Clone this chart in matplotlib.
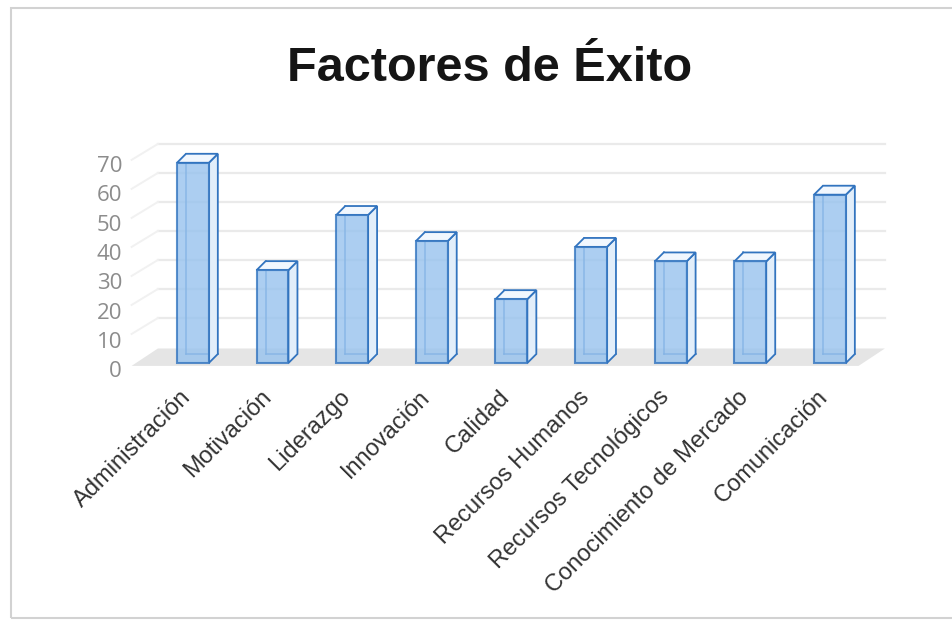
import matplotlib
matplotlib.use('Agg')
import matplotlib.pyplot as plt
from matplotlib.patches import Polygon, Rectangle

# datos
categorias = ['Administración', 'Motivación', 'Liderazgo', 'Innovación', 'Calidad',
              'Recursos Humanos', 'Recursos Tecnológicos', 'Conocimiento de Mercado',
              'Comunicación']
valores = [69, 32, 51, 42, 22, 40, 35, 35, 58]
marcas_y = [0, 10, 20, 30, 40, 50, 60, 70]
titulo = 'Factores de Éxito'

fig = plt.figure(figsize=(9.53, 6.22), dpi=100)
ax = fig.add_axes([130 / 953, (622 - 380) / 622, 770 / 953, 250 / 622])
ax.set_xlim(-0.79, 8.88)
ax.set_ylim(-5.86, 80.3)
ax.axis('off')

# profundidad de las columnas y de las paredes (unidades de datos)
ancho = 0.40
dx, dy = 0.113, 3.1
pared_dx, pared_dy = 0.33, 5.5
x_izq, x_der = -0.44, 8.69

# suelo
ax.add_patch(Polygon([(x_izq - pared_dx, -1.0), (x_izq, pared_dy - 0.5),
                      (x_der, pared_dy - 0.5), (x_der - pared_dx, -1.0)],
                     closed=True, facecolor='#e5e5e5', edgecolor='none', zorder=1))

# lineas de division en la pared del fondo y en la pared lateral
for m in marcas_y[1:]:
    ax.plot([x_izq, x_der], [m + pared_dy, m + pared_dy], color='#eaeaea', lw=1.6, zorder=0)
    ax.plot([x_izq - pared_dx, x_izq], [m, m + pared_dy], color='#f1f1f1', lw=1.4, zorder=0)

borde = '#3274bf'
for i, v in enumerate(valores):
    x0, x1 = i - ancho / 2, i + ancho / 2
    # aristas traseras que se ven a traves de la columna
    ax.plot([x0 + dx, x0 + dx], [dy, v + dy], color=borde, lw=1.2, alpha=0.75, zorder=2)
    ax.plot([x0 + dx, x1 + dx], [dy, dy], color=borde, lw=1.2, alpha=0.75, zorder=2)
    # cara lateral
    ax.add_patch(Polygon([(x1, 0), (x1 + dx, dy), (x1 + dx, v + dy), (x1, v)], closed=True,
                         facecolor='#e2eefa', edgecolor=borde, lw=1.3, zorder=3))
    # cara superior
    ax.add_patch(Polygon([(x0, v), (x1, v), (x1 + dx, v + dy), (x0 + dx, v + dy)], closed=True,
                         facecolor='#f1f7fe', edgecolor=borde, lw=1.3, zorder=3))

ax.bar(range(len(valores)), valores, width=ancho, color='#97c2ee', alpha=0.8,
       edgecolor=borde, lw=1.5, zorder=4)

# etiquetas del eje vertical
for m in marcas_y:
    ax.text(-0.89, m * 1.01 - 3.0, str(m), ha='right', va='center', fontsize=16,
            color='#8c8c8c', family='Open Sans', clip_on=False)

# etiquetas de categorias
for i, c in enumerate(categorias):
    ax.text(i - 0.16, -8.0, c, rotation=45, ha='right', va='top', rotation_mode='anchor',
            fontsize=17, color='#333333', family='Liberation Sans', clip_on=False)

fig.text(489.5 / 953, 1 - 81 / 622, titulo, ha='center', va='baseline', fontsize=35,
         weight='bold', color='#151515', family='Liberation Sans')

# marco del grafico
fig.add_artist(Rectangle((11 / 953, 4 / 622), 1.0, 610 / 622, transform=fig.transFigure,
                         fill=False, edgecolor='#d2d2d2', lw=1.5))

fig.savefig('out.png', dpi=100)
